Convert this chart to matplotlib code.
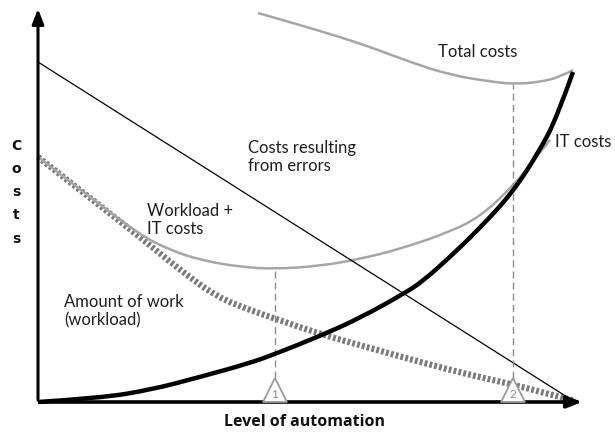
import numpy as np
import matplotlib
matplotlib.use("Agg")
import matplotlib.pyplot as plt
from matplotlib.patches import Polygon, PathPatch
from matplotlib.path import Path

# level of automation (x) and costs (y)
err_x = [0, 537]
err_y = [340, 0]

it_x = [0, 62, 112, 162, 212, 237, 282, 322, 367, 385, 412, 442, 475, 502, 519, 535]
it_y = [0, 4, 12, 25, 39, 48, 66, 84, 109, 121, 145, 174, 210, 252, 285, 330]

work_x = [0, 52, 102, 142, 179, 212, 235, 282, 332, 382, 432, 473, 507, 537]
work_y = [245, 204, 165, 132, 105, 92, 84, 68, 54, 40, 27, 18, 9, 1]

wit_x = [0, 52, 102, 132, 162, 202, 237, 282, 322, 362, 409, 442, 475, 492, 512]
wit_y = [245, 205, 167, 152, 142, 135, 133, 136, 143, 153, 169, 185, 216, 237, 262]

tot_x = [220, 262, 302, 335, 372, 412, 455, 477, 502, 522, 535]
tot_y = [389, 377, 365, 354, 340, 327, 320, 318, 320, 325, 332]

# optimum markers: (level, top of dashed line)
opt_x = [237, 475]
opt_top = [133, 318]
opt_lbl = ['1', '2']

FONT = 'Lato'


def smooth_curve(ax, xs, ys, **kw):
    # quadratic bezier through the midpoints, the read points act as control points
    pts = list(zip(xs, ys))
    verts = [pts[0]]
    codes = [Path.MOVETO]
    for i in range(1, len(pts) - 1):
        mid = ((pts[i][0] + pts[i + 1][0]) / 2, (pts[i][1] + pts[i + 1][1]) / 2)
        if i == len(pts) - 2:
            mid = pts[-1]
        verts += [pts[i], mid]
        codes += [Path.CURVE3, Path.CURVE3]
    patch = PathPatch(Path(verts, codes), fill=False, **kw)
    ax.add_patch(patch)
    return patch


fig = plt.figure(figsize=(6.15, 4.34), dpi=100)
ax = fig.add_axes([0, 0, 1, 1])
ax.set_xlim(-38, 577)
ax.set_ylim(-32, 402)
ax.axis('off')

# axes with arrows
ax.annotate('', xy=(0, 396), xytext=(0, -1),
            arrowprops=dict(arrowstyle='-|>,head_length=0.9,head_width=0.35', color='black', lw=2.2))
ax.annotate('', xy=(547, 0), xytext=(-1, 0),
            arrowprops=dict(arrowstyle='-|>,head_length=0.9,head_width=0.35', color='black', lw=2.6))

# curves
ax.plot(err_x, err_y, color='black', lw=0.9)
smooth_curve(ax, work_x, work_y, edgecolor='#7a7a7a', lw=4.5,
             linestyle=(0, (0.45, 0.35)), capstyle='butt')
smooth_curve(ax, wit_x, wit_y, edgecolor='#a6a6a6', lw=1.8)
smooth_curve(ax, tot_x, tot_y, edgecolor='#a6a6a6', lw=1.8)
smooth_curve(ax, it_x, it_y, edgecolor='black', lw=3.2, zorder=3)

# optimum dashed lines and triangles
for x, top, lbl in zip(opt_x, opt_top, opt_lbl):
    ax.plot([x, x], [24, top], color='#8c8c8c', lw=1, linestyle=(0, (5, 3)))
    tri = Polygon([[x - 12, 0], [x, 24], [x + 12, 0]], closed=True,
                  facecolor='white', edgecolor='#9a9a9a', lw=1.3, zorder=4)
    ax.add_patch(tri)
    ax.text(x, 8, lbl, ha='center', va='center', fontsize=8.5, color='#8c8c8c',
            family=FONT, zorder=5)

# labels
txt = dict(family=FONT, fontsize=12, color='#1e1e1e', linespacing=1.15)
ax.text(440, 350, 'Total costs', ha='center', va='center', **txt)
ax.text(517, 260, 'IT costs', ha='left', va='center', **txt)
ax.text(210, 245, 'Costs resulting\nfrom errors', ha='left', va='center', **txt)
ax.text(109, 182, 'Workload +\nIT costs', ha='left', va='center', **txt)
ax.text(26, 91, 'Amount of work\n(workload)', ha='left', va='center', **txt)

ax.text(267, -20, 'Level of automation', ha='center', va='center',
        family='Open Sans', fontsize=11.5, fontweight='bold', color='#111111')
for ch, yy in zip('Costs', [252, 229, 206, 183, 159]):
    ax.text(-22, yy, ch, ha='center', va='baseline', family='DejaVu Sans',
            fontsize=10, fontweight='bold', color='#111111')

fig.savefig('out.png', dpi=100)
